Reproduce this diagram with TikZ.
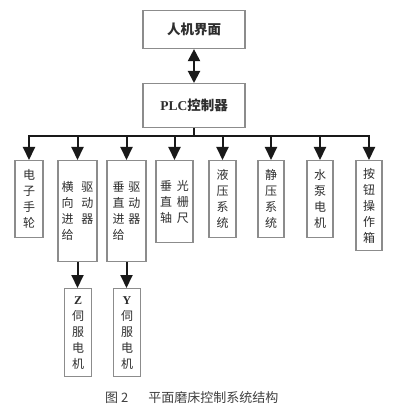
\documentclass[tikz,border=0pt]{standalone}
\usepackage{fontspec}
\setmainfont{Liberation Serif}
\newfontfamily\cjk{Noto Sans CJK SC}
\usetikzlibrary{arrows.meta}
\definecolor{boxline}{HTML}{8C8C8C}
\definecolor{txt}{HTML}{2E2E2E}
\newcommand{\duo}[3][6pt]{\makebox[12pt]{#2}\hspace{#1}\makebox[12pt]{#3}}
\tikzset{
  box/.style={draw=boxline, line width=1.1pt, anchor=north, inner sep=0pt,
    align=center, text=txt, font=\cjk\fontsize{12}{16}\selectfont},
  topbox/.style={box, minimum width=102pt, font=\cjk\fontsize{13.5}{16}\selectfont\bfseries},
  conn/.style={line width=2pt, draw=black!90},
  arr/.style={conn, -{Triangle[length=13pt,width=12pt]}},
  darr/.style={conn, {Triangle[length=12pt,width=12pt]}-{Triangle[length=12pt,width=12pt]}},
}
\begin{document}
\begin{tikzpicture}[x=1pt,y=-1pt]
\useasboundingbox (0,0) rectangle (400,411);
\fill[white] (0,0) rectangle (400,411);
% top boxes
\node[topbox, minimum height=38pt] (hmi) at (194,10) {人机界面};
\node[topbox, minimum height=44pt] (plc) at (194,83) {{\rmfamily\bfseries PLC}控制器};
\draw[darr] (hmi.south) -- (plc.north);
% second row
\node[box, minimum width=28pt, minimum height=77pt] (b1) at (29,160) {电\\子\\手\\轮};
\node[box, minimum width=39pt, minimum height=101pt] (b2) at (77.5,160)
  {\duo[8pt]{横}{驱}\\\duo[8pt]{向}{动}\\\duo[8pt]{进}{器}\\\duo[8pt]{给}{}};
\node[box, minimum width=39pt, minimum height=101pt] (b3) at (126.5,160)
  {\duo[4pt]{垂}{驱}\\\duo[4pt]{直}{动}\\\duo[4pt]{进}{器}\\\duo[4pt]{给}{}};
\node[box, minimum width=37pt, minimum height=82pt] (b4) at (174.5,160)
  {\duo[5pt]{垂}{光}\\\duo[5pt]{直}{栅}\\\duo[5pt]{轴}{尺}};
\node[box, minimum width=27pt, minimum height=77pt] (b5) at (222.5,160) {液\\压\\系\\统};
\node[box, minimum width=26pt, minimum height=77pt] (b6) at (271,160) {静\\压\\系\\统};
\node[box, minimum width=26pt, minimum height=77pt] (b7) at (320,160) {水\\泵\\电\\机};
\node[box, minimum width=26pt, minimum height=90pt] (b8) at (369,160) {按\\钮\\操\\作\\箱};
% third row
\node[box, minimum width=27pt, minimum height=88pt] (bz) at (78,288) {{\rmfamily\bfseries Z}\\伺\\服\\电\\机};
\node[box, minimum width=27pt, minimum height=88pt] (by) at (127,288) {{\rmfamily\bfseries Y}\\伺\\服\\电\\机};
% bus
\coordinate (bus) at (194,136);
\draw[conn] (plc.south) -- (bus);
\draw[conn, line cap=rect] (bus -| b1.north) -- (bus -| b8.north);
\foreach \b in {b1,b2,b3,b4,b5,b6,b7,b8}
  \draw[arr] (bus -| \b.north) -- (\b.north);
\draw[arr] (b2.south) -- (b2.south |- bz.north);
\draw[arr] (b3.south) -- (b3.south |- by.north);
% caption
\node[font=\cjk\fontsize{13}{15}\selectfont, text=black!75, anchor=west, inner sep=0pt] (cap) at (105,398)
  {图 2\hspace{20pt}平面磨床控制系统结构};
\end{tikzpicture}
\end{document}
